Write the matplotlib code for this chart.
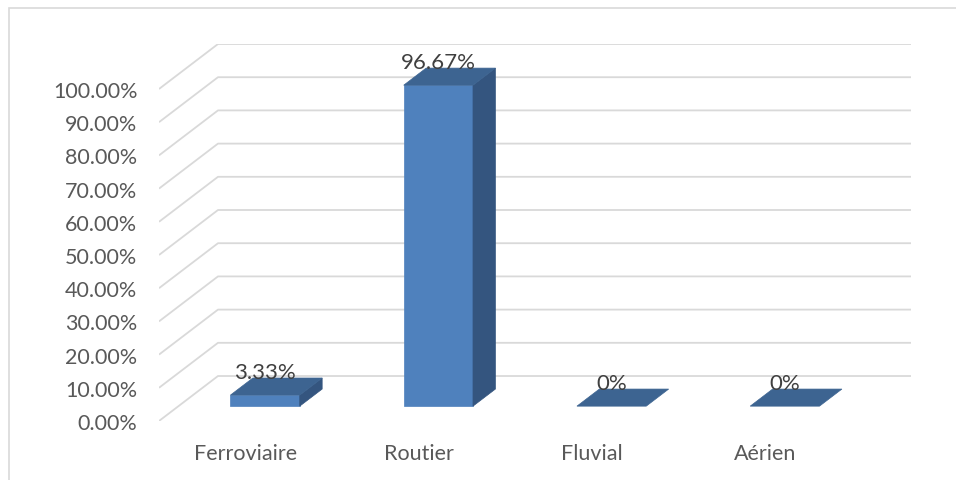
import matplotlib
import matplotlib.pyplot as plt
from matplotlib.patches import Polygon, Rectangle

matplotlib.use('agg')  # headless matplotlib

categories = ['Ferroviaire', 'Routier', 'Fluvial', 'Aérien']
values = [3.33, 96.67, 0, 0]
value_labels = ['3.33%', '96.67%', '0%', '0%']
y_ticks = [0, 10, 20, 30, 40, 50, 60, 70, 80, 90, 100]

# oblique offset of the full floor depth, in data units (x: categories, y: percent)
DEPTH_X = 0.3405
DEPTH_Y = 13.55
BAR_FRONT = 0.33   # depth fraction where bar front sits
BAR_BACK = 0.71
BAR_WIDTH = 0.4

GRID = '#d9d9d9'
TEXT = '#595959'
FRONT = '#4f81bd'
SIDE = '#34557f'
TOP = '#3d6491'
FONT = 'Lato'


def main():
    fig = plt.figure(figsize=(9.56, 4.81), dpi=100)
    ax = fig.add_axes([159 / 956, (481 - 422) / 481, (911 - 159) / 956, (422 - 45) / 481])
    ax.set_xlim(-0.5, len(categories) - 0.5 + DEPTH_X)
    ax.set_ylim(0, 100 + DEPTH_Y)
    for s in ax.spines.values():
        s.set_visible(False)

    # back wall gridlines with the diagonal on the left side wall
    x_left = -0.5
    x_right = len(categories) - 0.5
    for v in y_ticks:
        ax.plot([x_left, x_left + DEPTH_X, x_right + DEPTH_X],
                [v, v + DEPTH_Y, v + DEPTH_Y],
                color=GRID, lw=1.3, zorder=1, solid_capstyle='butt')

    ax.set_yticks(y_ticks)
    ax.set_yticklabels([f'{v:.2f}%' for v in y_ticks])
    ax.set_xticks(range(len(categories)))
    ax.set_xticklabels(categories)
    ax.tick_params(axis='y', length=0, pad=15.5, labelsize=15.5, labelcolor=TEXT)
    ax.tick_params(axis='x', length=0, pad=16, labelsize=15.5, labelcolor=TEXT)
    for lbl in ax.get_xticklabels() + ax.get_yticklabels():
        lbl.set_family(FONT)

    ox = BAR_FRONT * DEPTH_X
    oy = BAR_FRONT * DEPTH_Y
    ddx = (BAR_BACK - BAR_FRONT) * DEPTH_X
    ddy = (BAR_BACK - BAR_FRONT) * DEPTH_Y
    for i, (v, lab) in enumerate(zip(values, value_labels)):
        x0 = i - BAR_WIDTH / 2 + ox
        x1 = i + BAR_WIDTH / 2 + ox
        y0 = oy
        y1 = v + oy
        if v > 0:
            ax.add_patch(Polygon([(x0, y0), (x1, y0), (x1, y1), (x0, y1)],
                                 closed=True, fc=FRONT, ec=FRONT, lw=0.5, zorder=3))
            ax.add_patch(Polygon([(x1, y0), (x1, y1), (x1 + ddx, y1 + ddy), (x1 + ddx, y0 + ddy)],
                                 closed=True, fc=SIDE, ec=SIDE, lw=0.5, zorder=3))
        ax.add_patch(Polygon([(x0, y1), (x1, y1), (x1 + ddx, y1 + ddy), (x0 + ddx, y1 + ddy)],
                             closed=True, fc=TOP, ec=TOP, lw=0.5, zorder=3))
        ax.text(i + ox, y1 + ddy, lab, ha='center', va='baseline',
                fontsize=16, color='#404040', family=FONT, zorder=4)

    # chart area border (only top and left visible)
    fig.patches.append(Rectangle((9 / 956, -0.01), 1.0, 1 - 9 / 481 + 0.01,
                                 transform=fig.transFigure, fill=False,
                                 ec=GRID, lw=1.2))

    fig.savefig('out.png', dpi=100)
    plt.close(fig)


if __name__ == '__main__':
    main()
